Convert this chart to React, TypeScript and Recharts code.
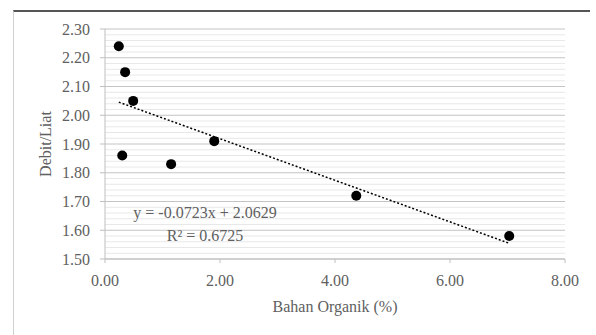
import React from 'react';
import { ScatterChart, Scatter, XAxis, YAxis, CartesianGrid, ReferenceLine } from 'recharts';

// Bahan organik (%) vs Debit/Liat
const bahanOrganik = [0.24, 0.35, 0.49, 0.3, 1.15, 1.9, 4.37, 7.03];
const debitLiat = [2.24, 2.15, 2.05, 1.86, 1.83, 1.91, 1.72, 1.58];

const xTicks = [0, 2, 4, 6, 8];
const yTicks = [1.5, 1.6, 1.7, 1.8, 1.9, 2.0, 2.1, 2.2, 2.3];

// linear trend shown on the chart
const trendSlope = -0.0723;
const trendIntercept = 2.0629;
const equationText = 'y = -0.0723x + 2.0629';
const r2Text = 'R² = 0.6725';

const points = bahanOrganik.map((x, i) => ({ x, y: debitLiat[i] }));
const xMin = Math.min(...bahanOrganik);
const xMax = Math.max(...bahanOrganik);
const trend = [
  { x: xMin, y: trendIntercept + trendSlope * xMin },
  { x: xMax, y: trendIntercept + trendSlope * xMax },
];

// minor gridlines every 0.02 (skip the major ones)
const minorLines = Array.from({ length: 41 }, (_, i) => +(1.5 + i * 0.02).toFixed(2)).filter(
  (v) => Math.abs(v * 10 - Math.round(v * 10)) > 0.01
);

const font = 'Liberation Serif, Times New Roman, serif';
const textColor = '#606060';
const tickStyle = { fontSize: 16, fill: textColor, fontFamily: font };

const Dot = (props: any) => <circle cx={props.cx} cy={props.cy} r={5} fill="#000" />;

export default function App() {
  return (
    <div style={{ position: 'relative', width: 596, height: 335, background: '#fff', fontFamily: font }}>
      <style>{'body{margin:0}'}</style>
      <div
        style={{
          position: 'absolute',
          left: 13,
          top: 10,
          width: 577,
          height: 325,
          borderTop: '2px solid #555',
          borderLeft: '1px solid #d0d0d0',
          boxSizing: 'border-box',
        }}
      />
      <ScatterChart width={596} height={335} margin={{ top: 29, right: 31, bottom: 0, left: 0 }}>
        {minorLines.map((v) => (
          <ReferenceLine key={v} y={v} stroke="#e8e8e8" strokeWidth={1} />
        ))}
        <CartesianGrid vertical={false} stroke="#c4c4c4" />
        <XAxis
          type="number"
          dataKey="x"
          domain={[0, 8]}
          ticks={xTicks}
          tickFormatter={(v: number) => v.toFixed(2)}
          height={76}
          tickSize={4}
          tickMargin={12}
          tick={tickStyle}
          axisLine={{ stroke: '#bfbfbf' }}
          tickLine={{ stroke: '#bfbfbf' }}
          label={{
            value: 'Bahan Organik (%)',
            position: 'insideTop',
            offset: 42,
            style: { fontSize: 16, fill: textColor, fontFamily: font },
          }}
        />
        <YAxis
          type="number"
          dataKey="y"
          domain={[1.5, 2.3]}
          ticks={yTicks}
          tickFormatter={(v: number) => v.toFixed(2)}
          width={105}
          tickSize={5}
          tickMargin={10}
          tick={tickStyle}
          axisLine={{ stroke: '#bfbfbf' }}
          tickLine={{ stroke: '#bfbfbf' }}
          label={{
            value: 'Debit/Liat',
            angle: -90,
            position: 'insideLeft',
            offset: 45,
            style: { fontSize: 16, fill: textColor, fontFamily: font, textAnchor: 'middle' },
          }}
        />
        <Scatter data={points} shape={Dot} isAnimationActive={false} />
        <Scatter
          data={trend}
          shape={() => <g />}
          line={{ stroke: '#000', strokeWidth: 1.5, strokeDasharray: '2 2' }}
          isAnimationActive={false}
        />
      </ScatterChart>
      <div
        style={{
          position: 'absolute',
          left: 105,
          top: 201,
          width: 200,
          textAlign: 'center',
          fontSize: 16,
          lineHeight: '23px',
          color: textColor,
        }}
      >
        <div>{equationText}</div>
        <div>{r2Text}</div>
      </div>
    </div>
  );
}
